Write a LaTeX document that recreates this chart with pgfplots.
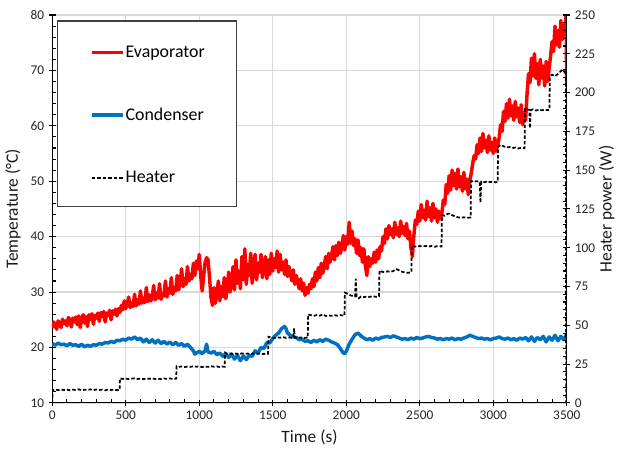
\documentclass[border=0pt]{standalone}
\usepackage{fontspec}
\setmainfont{Carlito}
\usepackage{pgfplots}
\pgfplotsset{compat=1.18}

\definecolor{evap}{RGB}{255,0,0}
\definecolor{cond}{RGB}{0,112,192}
\definecolor{gridgray}{RGB}{217,217,217}

\pgfplotsset{
  common/.style={
    scale only axis, width=386pt, height=291pt,
    xmin=0, xmax=3500,
    axis line style={line width=0.9pt, black},
    tick style={line width=0.8pt, black},
    tick align=center,
    major tick length=5pt,
    minor tick length=3pt,
    /pgf/number format/assume math mode=true,
    /pgf/number format/1000 sep={},
    ticklabel style={font=\fontsize{10}{12}\selectfont, black!85},
    label style={font=\fontsize{13}{15}\selectfont, black!90},
  },
  heaterline/.style={black, line width=1.3pt, dash pattern=on 2.6pt off 1.5pt},
}

\begin{document}
\begin{tikzpicture}
\begin{axis}[
  common,
  name=main,
  ymin=10, ymax=80,
  axis x line*=bottom, axis y line*=left,
  xtick={0,500,1000,1500,2000,2500,3000,3500},
  ytick={10,20,30,40,50,60,70,80},
  minor x tick num=4, minor y tick num=4,
  minor x tick style={yshift=1.5pt},
  minor y tick style={xshift=1.5pt},
  xmajorgrids, ymajorgrids,
  grid style={gridgray, line width=1pt},
  xlabel={Time (s)},
  ylabel={Temperature (°C)},
  xlabel style={at={(axis description cs:0.5,0)}, anchor=center, yshift=-25.5pt},
  ylabel style={at={(axis description cs:-0.0764,0.5)}, anchor=center},
  legend image code/.code={\draw[#1] (0pt,0pt) -- (23pt,0pt);},
  legend cell align=left,
  legend style={at={(0.0733,0.742)}, anchor=west,
    draw=none, fill=none, inner sep=0pt,
    font=\fontsize{13.4}{15}\selectfont,
    row sep=34.5pt, nodes={inner sep=1pt}},
]
% legend frame
\draw[black!75, line width=0.8pt, fill=white]
  (rel axis cs:0.0111,0.9845) rectangle (rel axis cs:0.359,0.5055);
% evaporator temperature
\addplot[evap, line width=2.6pt, line join=round] coordinates {
(0,23.5)(10,24.6)(20,24.0)(30,23.3)(40,24.8)(50,24.4)(60,23.6)(70,25.1)(80,24.3)(90,24.8)
(100,23.9)(110,25.4)(120,25.0)(130,23.7)(140,25.3)(150,24.6)(160,25.5)(170,24.1)(180,25.7)(190,23.6)
(200,25.2)(210,25.9)(220,24.4)(230,25.6)(240,23.8)(250,25.9)(260,25.1)(270,26.1)(280,24.2)(290,25.8)
(300,25.3)(310,26.2)(320,24.7)(330,26.3)(340,25.6)(350,26.5)(360,24.6)(370,26.2)(380,25.8)(390,26.7)
(400,25.0)(410,26.6)(420,26.0)(430,26.9)(440,25.7)(450,27.0)(460,26.3)(470,27.6)(480,26.8)(490,28.4)
(500,27.0)(510,27.8)(520,29.1)(530,27.2)(540,28.0)(550,27.4)(560,29.6)(570,27.5)(580,28.6)(590,27.8)
(600,30.2)(610,28.0)(620,28.9)(630,28.1)(640,30.8)(650,28.3)(660,29.5)(670,28.4)(680,29.0)(690,31.2)
(700,28.6)(710,29.8)(720,28.9)(730,31.5)(740,28.7)(750,29.6)(760,29.3)(770,32.0)(780,29.1)(790,30.6)
(800,29.8)(810,32.6)(820,29.6)(830,30.8)(840,30.2)(850,33.0)(860,30.4)(870,31.6)(880,34.2)(890,31.0)
(900,32.4)(910,31.4)(920,34.6)(930,32.0)(940,33.2)(950,32.4)(960,35.2)(970,33.0)(980,35.6)(990,34.2)
(1000,36.8)(1010,33.0)(1020,30.2)(1030,32.8)(1040,35.4)(1050,36.2)(1060,35.8)(1070,32.6)(1080,29.0)(1090,27.6)
(1100,30.8)(1110,28.0)(1120,29.6)(1130,32.0)(1140,28.4)(1150,31.0)(1160,29.2)(1170,32.6)(1180,28.8)(1190,30.4)
(1200,33.6)(1210,30.0)(1220,31.8)(1230,34.6)(1240,30.4)(1250,35.8)(1260,31.6)(1270,33.8)(1280,30.6)(1290,36.4)
(1300,32.2)(1310,37.8)(1320,31.4)(1330,35.0)(1340,33.0)(1350,37.0)(1360,31.6)(1370,34.8)(1380,36.8)(1390,32.2)
(1400,35.2)(1410,33.6)(1420,36.8)(1430,32.6)(1440,34.6)(1450,36.4)(1460,32.4)(1470,35.8)(1480,33.2)(1490,37.0)
(1500,33.8)(1510,36.0)(1520,34.4)(1530,37.4)(1540,33.6)(1550,36.8)(1560,34.0)(1570,35.4)(1580,33.2)(1590,35.8)
(1600,32.8)(1610,34.6)(1620,33.4)(1630,32.0)(1640,34.0)(1650,31.4)(1660,33.0)(1670,31.8)(1680,30.6)(1690,32.4)
(1700,30.2)(1710,31.6)(1720,29.4)(1730,30.8)(1740,29.8)(1750,31.4)(1760,30.6)(1770,32.4)(1780,31.0)(1790,33.6)
(1800,32.0)(1810,34.4)(1820,32.6)(1830,35.2)(1840,33.4)(1850,34.6)(1860,36.4)(1870,34.2)(1880,37.0)(1890,35.4)
(1900,36.6)(1910,38.2)(1920,35.8)(1930,38.4)(1940,36.6)(1950,39.0)(1960,37.0)(1970,38.2)(1980,40.2)(1990,37.6)
(2000,40.0)(2010,38.6)(2020,42.6)(2030,38.8)(2040,41.0)(2050,38.4)(2060,39.6)(2070,37.0)(2080,39.4)(2090,36.6)
(2100,38.0)(2110,35.4)(2120,37.8)(2130,34.8)(2140,33.0)(2150,36.4)(2160,34.6)(2170,36.0)(2180,35.2)(2190,37.2)
(2200,35.4)(2210,37.6)(2220,36.0)(2230,38.2)(2240,37.4)(2250,40.0)(2260,38.8)(2270,41.4)(2280,39.6)(2290,42.0)
(2300,40.4)(2310,41.4)(2320,39.8)(2330,42.6)(2340,40.4)(2350,41.6)(2360,40.0)(2370,42.8)(2380,40.6)(2390,41.8)
(2400,40.2)(2410,42.4)(2420,39.6)(2430,41.0)(2440,38.0)(2450,36.4)(2460,40.2)(2470,43.0)(2480,42.2)(2490,44.6)
(2500,42.8)(2510,45.8)(2520,43.4)(2530,44.8)(2540,43.0)(2550,46.4)(2560,43.6)(2570,45.2)(2580,42.8)(2590,46.0)
(2600,43.4)(2610,45.0)(2620,42.6)(2630,44.6)(2640,43.2)(2650,44.0)(2660,46.6)(2670,45.8)(2680,49.4)(2690,47.8)
(2700,51.0)(2710,48.4)(2720,52.0)(2730,49.2)(2740,51.4)(2750,48.6)(2760,52.2)(2770,49.0)(2780,50.8)(2790,48.2)
(2800,51.6)(2810,48.6)(2820,50.4)(2830,47.6)(2840,50.2)(2850,51.4)(2860,53.2)(2870,54.6)(2880,54.0)(2890,56.6)
(2900,55.0)(2910,57.8)(2920,55.4)(2930,58.6)(2940,56.0)(2950,57.4)(2960,55.2)(2970,58.2)(2980,55.6)(2990,57.0)
(3000,55.0)(3010,57.8)(3020,55.4)(3030,56.6)(3040,57.8)(3050,60.2)(3060,59.0)(3070,62.6)(3080,60.8)(3090,64.0)
(3100,61.4)(3110,64.8)(3120,61.8)(3130,63.6)(3140,61.0)(3150,64.4)(3160,61.6)(3170,63.2)(3180,60.6)(3190,63.8)
(3200,60.2)(3210,62.4)(3220,61.0)(3230,65.8)(3240,69.4)(3250,67.8)(3260,72.2)(3270,69.0)(3280,73.0)(3290,68.6)
(3300,71.2)(3310,67.4)(3320,72.0)(3330,68.6)(3340,70.8)(3350,67.2)(3360,71.6)(3370,68.0)(3380,70.4)(3390,72.6)
(3400,75.2)(3410,73.4)(3420,78.0)(3430,74.6)(3440,77.2)(3450,74.2)(3460,79.0)(3470,75.6)(3480,78.2)(3490,76.8)
(3495,80.0)(3500,67.0)
};
\addlegendentry{Evaporator}
% condenser temperature
\addplot[cond, line width=2.6pt, line join=round] coordinates {
(0,20.7)(20,20.4)(40,20.8)(60,20.5)(80,20.6)(100,20.3)(120,20.7)(140,20.4)(160,20.5)(180,20.2)
(200,20.6)(220,20.1)(240,20.4)(260,20.2)(280,20.5)(300,20.4)(320,20.7)(340,20.6)(360,20.9)(380,20.8)
(400,21.1)(420,20.9)(440,21.3)(460,21.2)(480,21.5)(500,21.3)(520,21.7)(540,21.5)(560,21.9)(580,21.4)
(600,21.7)(620,21.0)(640,21.5)(660,20.9)(680,21.4)(700,20.8)(720,21.3)(740,20.7)(760,21.1)(780,20.6)
(800,21.0)(820,20.5)(840,20.9)(860,20.4)(880,20.7)(900,20.2)(920,20.6)(940,20.0)(960,19.4)(970,18.8)
(980,19.0)(1000,19.3)(1020,18.9)(1040,19.4)(1050,20.6)(1060,19.2)(1080,19.0)(1100,19.3)(1120,18.7)(1140,19.0)
(1160,18.4)(1180,18.9)(1200,18.2)(1220,18.8)(1240,17.9)(1260,18.6)(1280,17.6)(1300,18.5)(1320,17.8)(1340,18.6)
(1360,18.4)(1380,19.4)(1400,19.0)(1420,20.0)(1440,19.8)(1460,20.9)(1480,20.8)(1500,21.6)(1520,22.2)(1540,22.6)
(1560,23.4)(1580,23.8)(1590,23.4)(1600,22.6)(1620,22.2)(1640,21.9)(1660,21.8)(1680,21.4)(1700,21.5)(1720,21.1)
(1740,21.2)(1760,20.9)(1780,21.3)(1800,21.0)(1820,21.4)(1840,21.1)(1860,21.5)(1880,21.3)(1900,21.0)(1920,20.8)
(1940,20.5)(1960,19.8)(1980,19.0)(1990,18.9)(2000,19.3)(2020,20.6)(2040,21.5)(2060,22.3)(2080,22.6)(2100,22.1)
(2120,21.7)(2140,21.4)(2160,21.6)(2180,21.3)(2200,21.7)(2220,21.5)(2240,21.8)(2260,21.9)(2280,22.0)(2300,21.8)
(2320,22.1)(2340,21.9)(2360,21.7)(2380,21.5)(2400,21.6)(2420,21.4)(2440,21.7)(2460,21.5)(2480,21.8)(2500,21.6)
(2520,21.7)(2540,21.9)(2560,22.0)(2580,21.8)(2600,21.7)(2620,21.5)(2640,21.6)(2660,21.4)(2680,21.6)(2700,21.5)
(2720,21.7)(2740,21.4)(2760,21.6)(2780,21.5)(2800,21.7)(2820,21.9)(2840,22.2)(2860,22.0)(2880,21.8)(2900,21.6)
(2920,21.7)(2940,21.5)(2960,21.6)(2980,21.4)(3000,21.6)(3020,21.7)(3040,21.9)(3060,21.6)(3080,21.5)(3100,21.7)
(3120,21.4)(3140,21.6)(3160,21.3)(3180,21.7)(3200,21.5)(3220,21.8)(3240,21.2)(3260,21.9)(3280,21.1)(3300,21.8)
(3320,21.4)(3340,22.0)(3360,21.0)(3380,21.9)(3400,21.3)(3420,22.2)(3440,21.2)(3460,22.0)(3480,21.4)(3500,22.4)
};
\addlegendentry{Condenser}
\addlegendimage{heaterline}
\addlegendentry{Heater}
\end{axis}

\begin{axis}[
  common,
  ymin=0, ymax=250,
  axis y line*=right, axis x line=none,
  ytick={0,25,50,75,100,125,150,175,200,225,250},
  minor y tick num=4,
  minor y tick style={xshift=-1.5pt},
  ylabel={Heater power (W)},
  ylabel style={at={(axis description cs:1.0777,0.5)}, anchor=center},
]
% heater power
\addplot[heaterline] coordinates {
(0,0)(3,8.3)(20,8.6)(40,8.2)(60,8.5)(80,8.3)(100,8.6)(120,8.1)(140,8.5)(160,8.3)(180,8.7)(200,8.2)
(220,8.5)(240,8.4)(260,8.7)(280,8.2)(300,8.6)(320,8.3)(340,8.5)(360,8.1)(380,8.6)(400,8.3)(420,8.5)(440,8.2)(458,8.4)
(461,15.8)(480,15.4)(500,15.7)(520,15.3)(540,15.6)(560,15.8)(580,15.4)(600,15.6)(620,15.3)(640,15.7)
(660,15.5)(680,15.8)(700,15.4)(720,15.6)(740,15.3)(760,15.7)(780,15.5)(800,15.8)(820,15.4)(843,15.6)
(846,23.6)(860,23.2)(880,23.5)(900,23.1)(920,23.4)(940,23.2)(960,23.6)(980,23.3)(1000,23.5)(1020,23.1)
(1040,23.4)(1060,23.2)(1080,23.6)(1100,23.3)(1120,23.5)(1140,23.0)(1160,23.4)(1173,23.3)
(1176,32.4)(1190,31.6)(1210,31.9)(1230,31.5)(1250,31.8)(1270,31.4)(1290,31.9)(1310,31.6)(1330,31.8)
(1350,31.5)(1370,31.9)(1390,31.6)(1410,31.8)(1430,31.4)(1450,31.7)(1468,31.6)
(1471,42.6)(1490,42.2)(1510,41.8)(1530,42.3)(1550,42.0)(1570,42.4)(1590,41.9)(1610,42.2)(1630,41.8)
(1640,42.3)(1645,48.0)(1650,42.1)(1670,41.8)(1690,42.2)(1710,41.7)(1730,42.1)(1738,41.9)
(1741,57.0)(1760,56.5)(1780,56.1)(1800,56.6)(1820,56.2)(1840,57.1)(1860,56.0)(1880,56.4)(1900,56.1)
(1920,56.5)(1940,56.2)(1960,56.6)(1975,56.3)(1988,56.2)
(1991,71.0)(2005,70.5)(2020,69.6)(2040,69.0)(2060,68.6)(2065,80.0)(2070,68.2)(2085,67.4)(2100,68.5)
(2120,68.1)(2140,68.6)(2160,68.3)(2180,68.8)(2200,68.4)(2223,68.6)
(2226,85.2)(2240,84.6)(2260,84.2)(2280,84.8)(2300,84.4)(2320,85.0)(2340,86.2)(2360,85.4)(2380,84.5)
(2400,84.0)(2420,83.8)(2443,84.2)
(2446,101.4)(2460,101.0)(2480,100.6)(2500,101.1)(2520,100.7)(2540,101.2)(2560,100.8)(2580,101.1)
(2600,100.6)(2620,101.0)(2648,100.8)
(2651,121.0)(2670,120.6)(2690,121.8)(2700,122.0)(2720,121.0)(2740,120.2)(2760,119.6)(2780,119.3)
(2800,119.6)(2820,119.2)(2846,119.5)
(2849,143.0)(2870,142.6)(2890,142.9)(2908,142.4)(2913,129.0)(2918,142.6)(2940,142.2)(2960,142.8)
(2980,142.3)(3000,142.6)(3015,142.1)(3030,142.4)
(3033,165.0)(3050,166.3)(3070,165.4)(3090,164.6)(3110,164.9)(3130,164.2)(3150,164.6)(3170,164.0)
(3190,164.4)(3213,164.1)
(3216,190.0)(3230,189.4)(3245,188.8)(3250,177.0)(3255,188.6)(3270,189.2)(3290,188.4)(3310,188.9)
(3330,188.6)(3350,189.0)(3370,188.7)(3382,188.9)
(3385,210.5)(3400,211.5)(3420,210.6)(3440,212.0)(3460,213.8)(3470,215.0)(3480,214.0)(3490,212.0)
(3494,213.0)(3496,0)
};
\end{axis}

\pgfresetboundingbox
\path ([xshift=-39.2pt,yshift=-38pt]main.south west) rectangle ([xshift=39.2pt,yshift=11.25pt]main.north east);
\end{tikzpicture}
\end{document}
